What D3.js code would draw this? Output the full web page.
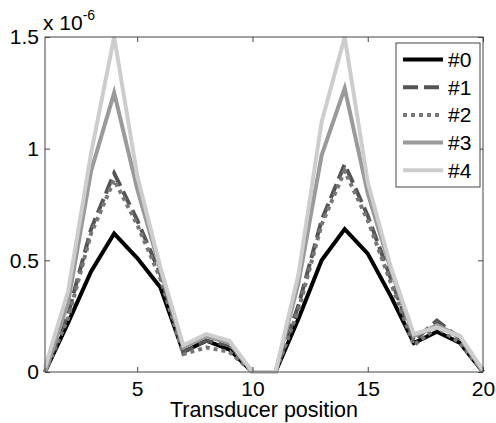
<!DOCTYPE html>
<html>
<head>
<meta charset="utf-8">
<script src="https://cdn.jsdelivr.net/npm/d3@7"></script>
<style>
  body { margin: 0; background: #fff; }
  svg text { font-family: "Liberation Sans", Arial, sans-serif; fill: #000; }
</style>
</head>
<body>
<div id="chart"></div>
<script>
// transducer positions 1..20, values in units of 1e-6
const positions = d3.range(1, 21);
const seriesNames = ['#0', '#1', '#2', '#3', '#4'];
const s0 = [0, 0.22, 0.45, 0.62, 0.51, 0.38, 0.09, 0.14, 0.10, 0, 0, 0.24, 0.50, 0.64, 0.53, 0.34, 0.13, 0.18, 0.13, 0];
const s1 = [0, 0.26, 0.64, 0.89, 0.68, 0.44, 0.09, 0.14, 0.12, 0, 0, 0.30, 0.68, 0.93, 0.70, 0.42, 0.14, 0.23, 0.15, 0];
const s2 = [0, 0.24, 0.62, 0.86, 0.66, 0.42, 0.08, 0.11, 0.09, 0, 0, 0.28, 0.66, 0.90, 0.68, 0.40, 0.12, 0.20, 0.13, 0];
const s3 = [0, 0.31, 0.90, 1.25, 0.82, 0.46, 0.11, 0.16, 0.13, 0, 0, 0.40, 0.97, 1.27, 0.80, 0.46, 0.16, 0.21, 0.16, 0];
const s4 = [0.02, 0.36, 0.98, 1.50, 0.88, 0.47, 0.12, 0.17, 0.14, 0, 0, 0.44, 1.12, 1.50, 0.85, 0.47, 0.17, 0.20, 0.16, 0.01];
const xTicks = [5, 10, 15, 20];
const yTicks = [0, 0.5, 1, 1.5];
const yTickLabels = ['0', '0.5', '1', '1.5'];

const allSeries = [s0, s1, s2, s3, s4];
const styles = [
    {color: '#000000', dash: null},
    {color: '#555555', dash: '15,6'},
    {color: '#777777', dash: '4,4'},
    {color: '#9a9a9a', dash: null},
    {color: '#cdcdcd', dash: null}
];

const W = 496, H = 423;
const margin = {top: 37, right: 13, bottom: 51, left: 45};
const width = W - margin.left - margin.right;
const height = H - margin.top - margin.bottom;

const svg = d3.select('#chart').append('svg')
    .attr('width', W)
    .attr('height', H);

const g = svg.append('g')
    .attr('transform', `translate(${margin.left},${margin.top})`);

const x = d3.scaleLinear().domain([1, 20]).range([0, width]);
const y = d3.scaleLinear().domain([0, 1.5]).range([height, 0]);

const line = d3.line()
    .x((d, i) => x(positions[i]))
    .y(d => y(d));

// data lines
allSeries.forEach((s, i) => {
    g.append('path')
        .datum(s)
        .attr('d', line)
        .attr('fill', 'none')
        .attr('stroke', styles[i].color)
        .attr('stroke-width', 4)
        .attr('stroke-linejoin', 'miter')
        .attr('stroke-dasharray', styles[i].dash);
});

// box and ticks
const tickLen = 5;
const frame = '#444';
g.append('rect')
    .attr('width', width).attr('height', height)
    .attr('fill', 'none').attr('stroke', frame).attr('stroke-width', 1);

const axBottom = g.append('g')
    .attr('transform', `translate(0,${height})`)
    .call(d3.axisBottom(x).tickValues(xTicks).tickSize(-tickLen).tickPadding(10));
const axTop = g.append('g')
    .call(d3.axisTop(x).tickValues(xTicks).tickSize(-tickLen).tickFormat(''));
const axLeft = g.append('g')
    .call(d3.axisLeft(y).tickValues(yTicks).tickSize(-tickLen).tickPadding(6)
        .tickFormat((d, i) => yTickLabels[i]));
const axRight = g.append('g')
    .attr('transform', `translate(${width},0)`)
    .call(d3.axisRight(y).tickValues(yTicks).tickSize(-tickLen).tickFormat(''));

[axBottom, axTop, axLeft, axRight].forEach(ax => {
    ax.select('.domain').remove();
    ax.selectAll('line').attr('stroke', frame);
    ax.selectAll('text')
        .style('font-size', '21px')
        .style('font-family', '"Liberation Sans", Arial, sans-serif')
        .attr('fill', '#000');
});
axBottom.selectAll('text').attr('dy', '0.71em').attr('y', tickLen + 4);

// exponent label
const expo = g.append('text')
    .attr('x', -2)
    .attr('y', -7)
    .style('font-size', '21px');
expo.append('tspan').text('x 10');
expo.append('tspan')
    .attr('dy', -10)
    .style('font-size', '14px')
    .text('-6');

// x axis title
g.append('text')
    .attr('x', width / 2)
    .attr('y', height + 45)
    .attr('text-anchor', 'middle')
    .style('font-size', '21.5px')
    .text('Transducer position');

// legend
const legend = svg.append('g').attr('transform', 'translate(396,43)');
legend.append('rect')
    .attr('width', 84).attr('height', 144)
    .attr('fill', '#fff').attr('stroke', frame).attr('stroke-width', 1);
seriesNames.forEach((name, i) => {
    const ly = 16.5 + i * 27.7;
    legend.append('line')
        .attr('x1', 7).attr('x2', 47)
        .attr('y1', ly).attr('y2', ly)
        .attr('stroke', styles[i].color)
        .attr('stroke-width', 4)
        .attr('stroke-dasharray', styles[i].dash);
    legend.append('text')
        .attr('x', 52)
        .attr('y', ly)
        .attr('dy', '0.36em')
        .style('font-size', '21px')
        .text(name);
});
</script>
</body>
</html>
